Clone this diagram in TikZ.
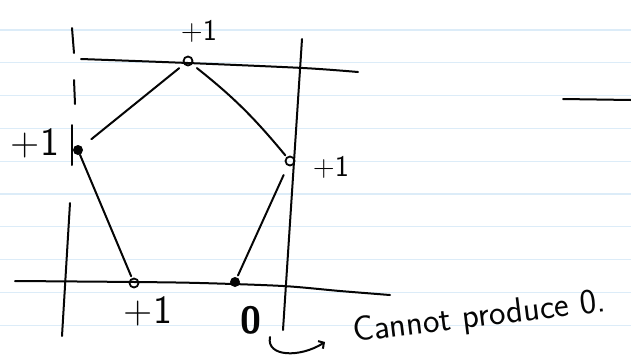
\documentclass[tikz,border=0pt]{standalone}
\usepackage{tikz}
\usetikzlibrary{arrows.meta}
\definecolor{ruleblue}{HTML}{DCECF8}
\definecolor{ink}{HTML}{050505}
\tikzset{
  pen/.style={draw=ink,line width=2pt,line cap=round,line join=round},
  ruling/.style={draw=ruleblue,line width=1.1pt},
  hollowdot/.style={circle,draw=ink,line width=1.8pt,inner sep=0pt,minimum size=9pt},
  soliddot/.style={circle,fill=ink,inner sep=0pt,minimum size=10pt},
  side/.style={pen,shorten <=#1,shorten >=2pt},
  handlabel/.style={text=ink,font=\sffamily\fontsize{#1}{#1}\selectfont,inner sep=0pt},
}

\begin{document}
\begin{tikzpicture}[x=1pt,y=-1pt]
			\useasboundingbox (0,0) rectangle (631,357);
			\fill[white] (0,0) rectangle (631,357);
			\foreach \k in {0,...,9} \draw[ruling] (0,30+32.8*\k)--(631,30+32.8*\k);
			\draw[pen] plot[smooth] coordinates {(81,59) (188,63) (303,68) (358,72)};
			\draw[pen] plot[smooth] coordinates {(15,281) (135,282) (200,283) (283,286) (340,291) (390,295)};
			\draw[pen] (72,28)--(74,53); \draw[pen] (74,80)--(75,104);
			\draw[pen] (72,125)--(72,165); \draw[pen] (70,203)--(62,336);
			\draw[pen] (302,39)--(283,330);
			\draw[pen] (563,99)--(631,100);
			\node[hollowdot] (top) at (188,61) {}; \node[soliddot] (lft) at (78,150) {};
			\node[hollowdot] (rgt) at (290,161) {}; \node[hollowdot] (bl) at (134,283) {};
			\node[soliddot] (br) at (235,282) {};
			\draw[side=6pt,shorten >=12pt] (top)--(lft); \draw[side=6pt] (top) to[bend left=6] (rgt);
			\draw[side=0pt] (lft)--(bl); \draw[side=10pt] (rgt)--(br);
			\node[handlabel=30] (ntop) at (199,31) {+1}; \node[handlabel=40] (nlft) at (35,143) {+1};
			\node[handlabel=30] (nrgt) at (331,167) {+1}; \node[handlabel=40] (nbl) at (148,311) {+1};
			\node[handlabel=38] (nbr) at (251,320) {\bfseries 0};
			\node[handlabel=35,anchor=base west,rotate=7] (note) at (354,342) {Cannot produce 0.};
			\coordinate (hook) at (270,337); \coordinate (hookend) at (325,342);
			\draw[pen,-{Straight Barb[length=4pt,width=9pt]}] (hook) .. controls (266,357) and (300,358) .. (hookend);
		\end{tikzpicture}
\end{document}
